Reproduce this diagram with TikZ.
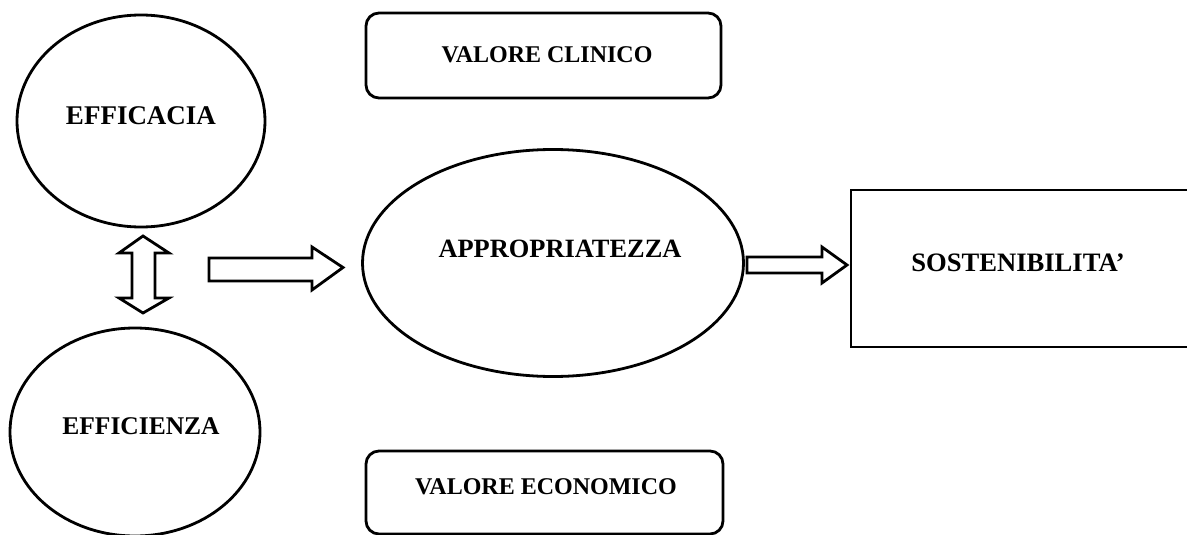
\documentclass[tikz,border=0pt]{standalone}
\usepackage{fontspec}
\setmainfont{Liberation Serif}
\usetikzlibrary{shapes.geometric}
\begin{document}
\begin{tikzpicture}[x=1pt,y=-1pt,
  line width=2.8pt,
  oval/.style={draw,ellipse,inner sep=0pt},
  lbl/.style={font=\bfseries\fontsize{#1}{#1}\selectfont,inner sep=0pt,anchor=center},
  lbl/.default=26.5,
  roundbox/.style={draw,rounded corners=13pt},
  blockarrow/.style={draw,line join=miter,fill=white}]
\useasboundingbox (0,0) rectangle (1187,535);
\clip (0,0) rectangle (1187,535);

% ellipses
\node[oval,minimum width=248pt,minimum height=212pt] (efficacia) at (141,121) {};
\node[oval,minimum width=250pt,minimum height=208pt] (efficienza) at (135,432) {};
\node[oval,minimum width=381pt,minimum height=227pt] (appro) at (553,263) {};

% boxes
\draw[roundbox] (366,13) rectangle (721,98);
\coordinate (clinico) at (547,55);
\draw[roundbox] (366,451) rectangle (723,534);
\coordinate (economico) at (546,487);
\draw (851,190) rectangle (1200,347);
\coordinate (sost) at (1018,263);

% labels
\node[lbl=27] at (141,116) {EFFICACIA};
\node[lbl=25.5] at (141,426) {EFFICIENZA};
\node[lbl=26.4] at (560,249) {APPROPRIATEZZA};
\node[lbl=24] at (clinico) {VALORE CLINICO};
\node[lbl=24] at (economico) {VALORE ECONOMICO};
\node[lbl=26.6] at (sost) {SOSTENIBILITA’};

% vertical double block arrow between efficacy and efficiency
\draw[blockarrow] (143,236) -- (169,253) -- (155,253) -- (155,298) -- (169,298)
  -- (143,313) -- (119,298) -- (132,298) -- (132,253) -- (119,253) -- cycle;

% block arrow towards appropriateness
\draw[blockarrow] (209,258) -- (312,258) -- (312,247) -- (343,267.5)
  -- (312,290) -- (312,281) -- (209,281) -- cycle;

% block arrow towards sustainability
\draw[blockarrow] (747,257) -- (822,257) -- (822,247) -- (847,265)
  -- (822,283) -- (822,273) -- (747,273) -- cycle;
\end{tikzpicture}
\end{document}
